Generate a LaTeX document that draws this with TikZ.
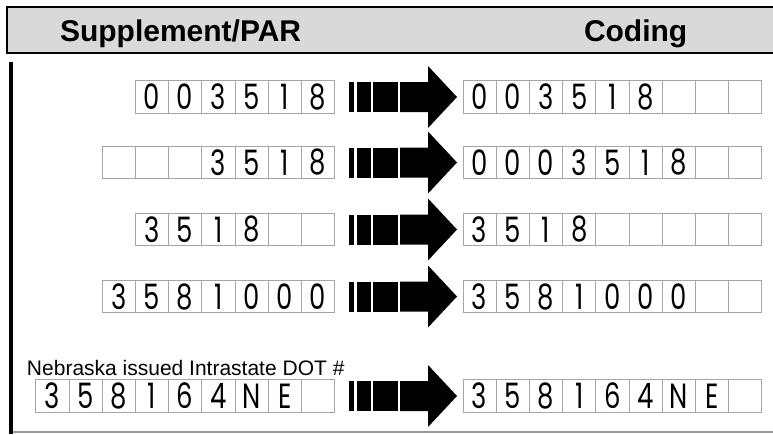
\documentclass[tikz,border=0pt]{standalone}
\usepackage{fontspec}
\setmainfont{Liberation Sans}
\newfontfamily\digitfont[FakeStretch=0.74]{Poppins}
\newcommand\boxrow[4]{% name, left edge, centre y, entries
  \foreach \d [count=\i] in {#4}
    \node[cell] (#1\i) at ({#2+33.2*(\i-0.5)},#3) {\d};}
\begin{document}
\begin{tikzpicture}[x=1pt,y=-1pt,line join=miter]
	\tikzset{every node/.style={inner sep=0pt,outer sep=0pt},
		cell/.style={draw=gray!70,line width=0.8pt,minimum width=33.2pt,minimum height=32.5pt,
			font=\digitfont\fontsize{35}{35}\selectfont},
		headtext/.style={font=\bfseries\fontsize{30}{30}\selectfont,anchor=base west}}
	\useasboundingbox (0,0) rectangle (773,434);
	% header bar
	\fill[gray!30] (7,7) rectangle (773,53);
	\draw[line width=1.5pt] (773,7)--(7,7)--(7,53)--(773,53);
	\node[headtext] (sup) at (60,41) {Supplement/PAR};
	\node[headtext] (cod) at (584,41) {Coding};
	% frame
	\draw[line width=4pt] (11,62)--(11,434);
	\draw[gray!80,line width=1.5pt] (13,432)--(773,432);
	% arrows
	\foreach \y in {97,162.5,229.5,296.5,396}{
		\fill (349,\y-15) rectangle (354,\y+15);
		\fill (356.5,\y-15) rectangle (370.5,\y+15);
		\fill (373,\y-15) rectangle (397.5,\y+15);
		\fill (400,\y-15)--(428,\y-15)--(428,\y-31)--(457,\y)--(428,\y+31)--(428,\y+15)--(400,\y+15)--cycle;
	}
	% supplement / PAR
	\boxrow{la}{135.3}{97}{0,0,3,5,1,8}
	\boxrow{lb}{102.1}{162.5}{{},{},{},3,5,1,8}
	\boxrow{lc}{135.3}{229.5}{3,5,1,8,{},{}}
	\boxrow{ld}{102.1}{296.5}{3,5,8,1,0,0,0}
	\boxrow{le}{35.7}{396}{3,5,8,1,6,4,N,E,{}}
	\node[anchor=base west,font=\fontsize{21}{21}\selectfont] (ne) at (27,375.5) {Nebraska issued Intrastate DOT \#};
	% coding
	\boxrow{ra}{463}{97}{0,0,3,5,1,8,{},{},{}}
	\boxrow{rb}{463}{162.5}{0,0,0,3,5,1,8,{},{}}
	\boxrow{rc}{463}{229.5}{3,5,1,8,{},{},{},{},{}}
	\boxrow{rd}{463}{296.5}{3,5,8,1,0,0,0,{},{}}
	\boxrow{re}{463}{396}{3,5,8,1,6,4,N,E,{}}
\end{tikzpicture}
\end{document}
